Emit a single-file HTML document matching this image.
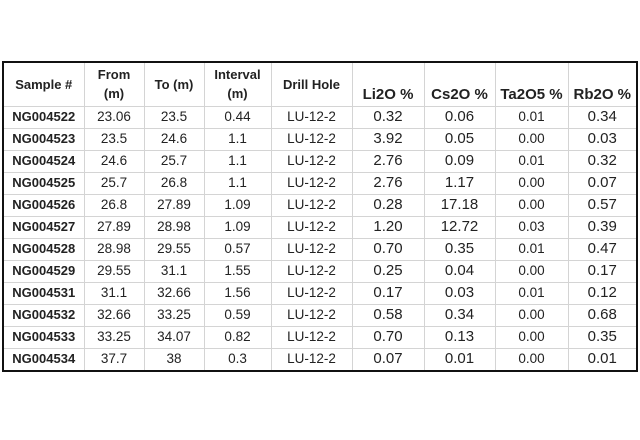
<!DOCTYPE html>
<html><head><meta charset="utf-8"><style>
body{margin:0;width:640px;height:440px;background:#fff;position:relative;overflow:hidden;font-family:"Liberation Sans",sans-serif}
table{position:absolute;left:2px;top:61px;border-collapse:collapse;table-layout:fixed;border:2px solid #111}
td,th{border:1px solid #d4d4d4;text-align:center;padding:0;color:#222;white-space:nowrap;overflow:hidden}
th{height:44px;font-size:13px;font-weight:bold;line-height:19px;box-sizing:border-box}
th.big{font-size:15px;vertical-align:bottom;padding-bottom:2px}
td{height:21px;font-size:13.5px;line-height:16px}
td.s{font-weight:bold;font-size:13px}
td.n{font-size:15px}
</style></head><body>
<table>
<colgroup><col style="width:81px"><col style="width:60px"><col style="width:60px"><col style="width:67px"><col style="width:81px"><col style="width:72px"><col style="width:71px"><col style="width:73px"><col style="width:69px"></colgroup>
<tr>
<th>Sample #</th>
<th>From<br>(m)</th>
<th>To (m)</th>
<th>Interval<br>(m)</th>
<th>Drill Hole</th>
<th class="big">Li2O %</th>
<th class="big">Cs2O %</th>
<th class="big">Ta2O5 %</th>
<th class="big">Rb2O %</th>
</tr>
<tbody id="rows"></tbody>
</table>
<script>
const samples=["NG004522","NG004523","NG004524","NG004525","NG004526","NG004527","NG004528","NG004529","NG004531","NG004532","NG004533","NG004534"];
const fromM=["23.06","23.5","24.6","25.7","26.8","27.89","28.98","29.55","31.1","32.66","33.25","37.7"];
const toM=["23.5","24.6","25.7","26.8","27.89","28.98","29.55","31.1","32.66","33.25","34.07","38"];
const intervals=["0.44","1.1","1.1","1.1","1.09","1.09","0.57","1.55","1.56","0.59","0.82","0.3"];
const li2o=["0.32","3.92","2.76","2.76","0.28","1.20","0.70","0.25","0.17","0.58","0.70","0.07"];
const cs2o=["0.06","0.05","0.09","1.17","17.18","12.72","0.35","0.04","0.03","0.34","0.13","0.01"];
const ta2o5=["0.01","0.00","0.01","0.00","0.00","0.03","0.01","0.00","0.01","0.00","0.00","0.00"];
const rb2o=["0.34","0.03","0.32","0.07","0.57","0.39","0.47","0.17","0.12","0.68","0.35","0.01"];
const tb=document.getElementById('rows');
samples.forEach((s,i)=>{
  const tr=document.createElement('tr');
  
  
  const cells=[[s,'s','sample-id'],[fromM[i],'','from-value'],[toM[i],'','to-value'],[intervals[i],'','interval-value'],['LU-12-2','','drill-hole-value'],[li2o[i],'n','li2o-value'],[cs2o[i],'n','cs2o-value'],[ta2o5[i],'','ta2o5-value'],[rb2o[i],'n','rb2o-value']];
  cells.forEach(c=>{
    const td=document.createElement('td');
    td.textContent=c[0];
    if(c[1])td.className=c[1];
    
    
    tr.appendChild(td);
  });
  tb.appendChild(tr);
});
</script>
</body></html>
